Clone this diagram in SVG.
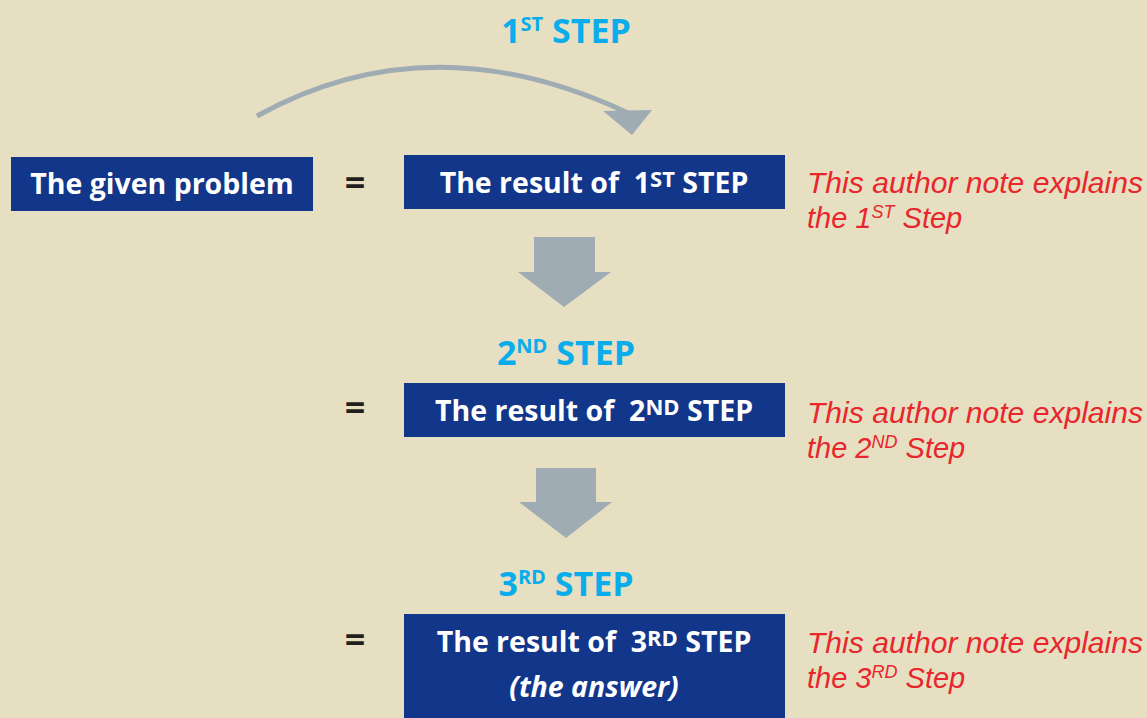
<svg xmlns="http://www.w3.org/2000/svg" width="1147" height="718" viewBox="0 0 1147 718">
<style>
.bg{fill:#E6DFC2}
.box{fill:#12368A}
.bt{font-family:"Open Sans","Liberation Sans",sans-serif;font-weight:700;font-size:28.5px;fill:#FFFFFF;text-anchor:middle}
.step{font-family:"Open Sans","Liberation Sans",sans-serif;font-weight:700;font-size:34px;fill:#0AADEB;text-anchor:middle}
.eq{font-family:"Open Sans","Liberation Sans",sans-serif;font-weight:700;font-size:36px;fill:#231F20;text-anchor:middle}
.note{font-family:"Liberation Sans","DejaVu Sans",sans-serif;font-style:italic;font-size:29px;fill:#E8262C}
.arrow{fill:#A0ACB3}
</style>
<rect class="bg" x="0" y="0" width="1147" height="718"/>
<g id="connectors">
  <path d="M257,116 Q430,20 628,113" fill="none" stroke="#A0ACB3" stroke-width="5"/>
  <polygon class="arrow" points="603,111 652,110 632,135"/>
  <polygon class="arrow" points="534,237 595,237 595,272 611,272 564,307 518,272 534,272"/>
  <polygon class="arrow" points="536,468 596,468 596,502 612,502 566,538 519,502 536,502"/>
</g>
<g id="step1-label"><text class="step" x="566" y="43">1<tspan font-size="20" dy="-12">ST</tspan><tspan dy="12"> STEP</tspan></text></g>
<g id="given">
  <rect class="box" x="11" y="157" width="302" height="54"/>
  <text class="bt" x="162" y="194">The given problem</text>
</g>
<g id="eq1"><text class="eq" x="355" y="195">=</text></g>
<g id="result1">
  <rect class="box" x="404" y="155" width="381" height="54"/>
  <text class="bt" x="594" y="193" xml:space="preserve">The result of  1<tspan font-size="22" dy="-6">ST</tspan><tspan dy="6"> STEP</tspan></text>
</g>
<g id="note1"><text class="note" x="807" y="193" textLength="336" lengthAdjust="spacingAndGlyphs">This author note explains</text><text class="note" x="807" y="228">the 1<tspan font-size="18" dy="-10">ST</tspan><tspan dy="10"> Step</tspan></text></g>
<g id="step2-label"><text class="step" x="566" y="365">2<tspan font-size="20" dy="-12">ND</tspan><tspan dy="12"> STEP</tspan></text></g>
<g id="eq2"><text class="eq" x="355" y="420">=</text></g>
<g id="result2">
  <rect class="box" x="404" y="383" width="381" height="54"/>
  <text class="bt" x="594" y="421" xml:space="preserve">The result of  2<tspan font-size="22" dy="-6">ND</tspan><tspan dy="6"> STEP</tspan></text>
</g>
<g id="note2"><text class="note" x="807" y="423" textLength="336" lengthAdjust="spacingAndGlyphs">This author note explains</text><text class="note" x="807" y="458">the 2<tspan font-size="18" dy="-10">ND</tspan><tspan dy="10"> Step</tspan></text></g>
<g id="step3-label"><text class="step" x="566" y="596">3<tspan font-size="20" dy="-12">RD</tspan><tspan dy="12"> STEP</tspan></text></g>
<g id="eq3"><text class="eq" x="355" y="652">=</text></g>
<g id="result3">
  <rect class="box" x="404" y="614" width="381" height="104"/>
  <text class="bt" x="594" y="652" xml:space="preserve">The result of  3<tspan font-size="22" dy="-6">RD</tspan><tspan dy="6"> STEP</tspan></text>
  <text class="bt" x="594" y="697" font-style="italic">(the answer)</text>
</g>
<g id="note3"><text class="note" x="807" y="653" textLength="336" lengthAdjust="spacingAndGlyphs">This author note explains</text><text class="note" x="807" y="688">the 3<tspan font-size="18" dy="-10">RD</tspan><tspan dy="10"> Step</tspan></text></g>
</svg>
